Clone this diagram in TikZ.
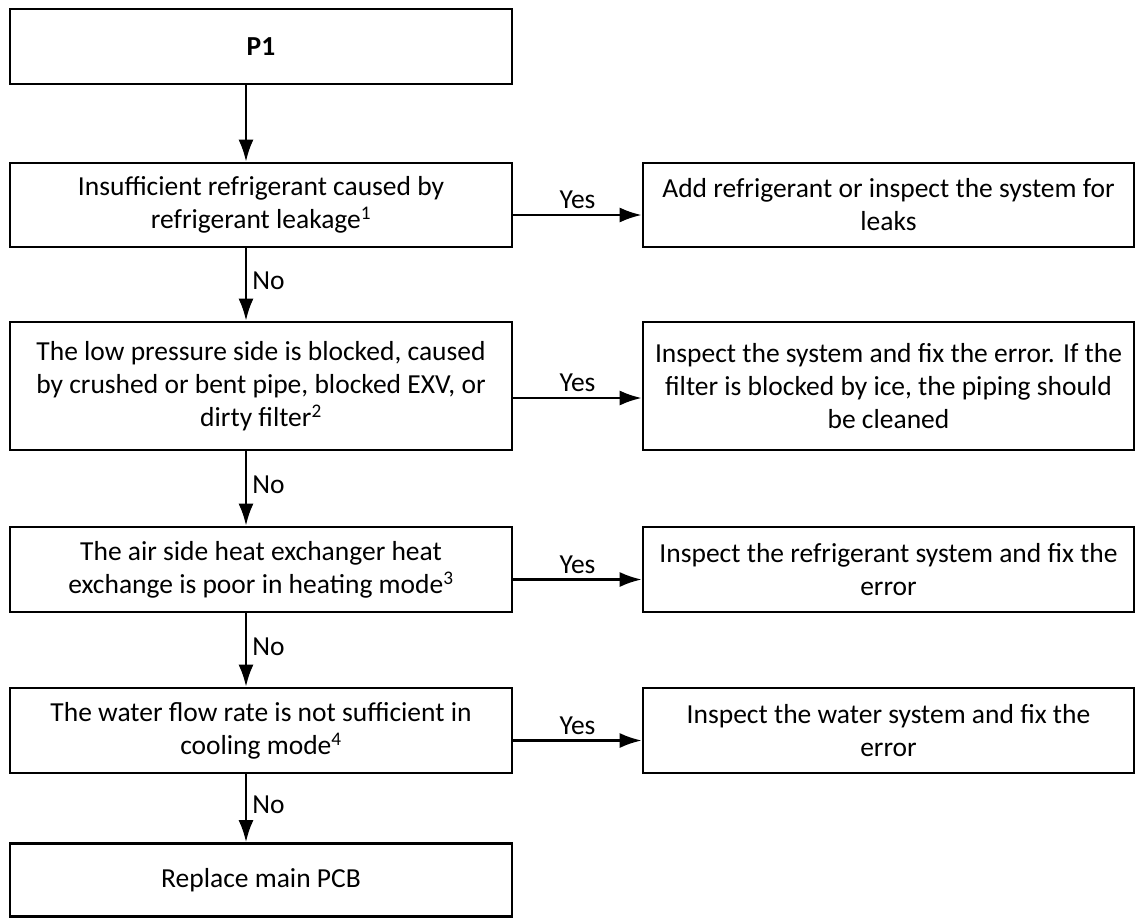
\documentclass[tikz,border=0pt]{standalone}
\usepackage{fontspec}
\setmainfont{Carlito}
\usetikzlibrary{arrows.meta}
\begin{document}
\begin{tikzpicture}[x=1pt,y=1pt,
  box/.style={draw, line width=2.6pt, rectangle, align=center, inner sep=0pt,
    font=\fontsize{27.5}{33}\selectfont},
  lbox/.style={box, minimum width=502pt},
  rbox/.style={box, minimum width=491pt},
  arr/.style={line width=2.5pt, -{Latex[length=22pt,width=15pt]}},
  lbl/.style={font=\fontsize{27.5}{30}\selectfont, inner sep=5pt}]
\useasboundingbox (0,0) rectangle (1139,-923);
\node[lbox, minimum height=75pt] (p1) at (261,-46.5) {\textbf{P1}};
\node[lbox, minimum height=84pt] (b2) at (261,-205) {Insufficient refrigerant caused by\\refrigerant leakage\textsuperscript{1}};
\node[rbox, minimum height=84pt] (r2) at (888.5,-205) {Add refrigerant or inspect the system for\\leaks};
\node[lbox, minimum height=128pt] (b3) at (261,-386) {The low pressure side is blocked, caused\\by crushed or bent pipe, blocked EXV, or\\dirty filter\textsuperscript{2}};
\node[rbox, minimum height=128pt] (r3) at (888.5,-386) {Inspect the system and fix the error. If the\\filter is blocked by ice, the piping should\\be cleaned};
\node[lbox, minimum height=85pt] (b4) at (261,-569.5) {The air side heat exchanger heat\\exchange is poor in heating mode\textsuperscript{3}};
\node[rbox, minimum height=85pt] (r4) at (888.5,-569.5) {Inspect the refrigerant system and fix the\\error};
\node[lbox, minimum height=85pt] (b5) at (261,-730.5) {The water flow rate is not sufficient in\\cooling mode\textsuperscript{4}};
\node[rbox, minimum height=85pt] (r5) at (888.5,-730.5) {Inspect the water system and fix the\\error};
\node[lbox, minimum height=73pt] (b6) at (261,-880) {Replace main PCB};
\draw[arr] ([xshift=-15pt]p1.south) -- ([xshift=-15pt]b2.north);
\draw[arr] ([xshift=-15pt]b2.south) -- node[lbl, right, pos=0.45] {No} ([xshift=-15pt]b3.north);
\draw[arr] ([xshift=-15pt]b3.south) -- node[lbl, right, pos=0.45] {No} ([xshift=-15pt]b4.north);
\draw[arr] ([xshift=-15pt]b4.south) -- node[lbl, right, pos=0.45] {No} ([xshift=-15pt]b5.north);
\draw[arr] ([xshift=-15pt]b5.south) -- node[lbl, right, pos=0.45] {No} ([xshift=-15pt]b6.north);
\draw[arr] ([yshift=-10pt]b2.east) -- node[lbl, above] {Yes} ([yshift=-10pt]r2.west);
\draw[arr] ([yshift=-12pt]b3.east) -- node[lbl, above] {Yes} ([yshift=-12pt]r3.west);
\draw[arr] ([yshift=-10pt]b4.east) -- node[lbl, above] {Yes} ([yshift=-10pt]r4.west);
\draw[arr] ([yshift=-10pt]b5.east) -- node[lbl, above] {Yes} ([yshift=-10pt]r5.west);
\end{tikzpicture}
\end{document}
